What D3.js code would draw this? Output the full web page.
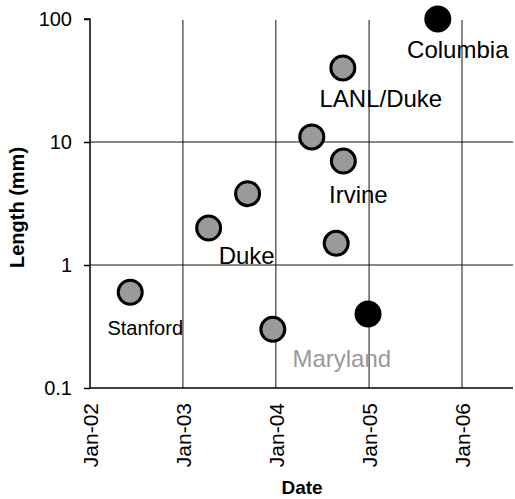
<!DOCTYPE html>
<html>
<head>
<meta charset="utf-8">
<script src="https://cdn.jsdelivr.net/npm/d3@7"></script>
<style>
  body { margin: 0; background: #fff; }
  svg { display: block; font-family: Arial, "Liberation Sans", sans-serif; }
</style>
</head>
<body>
<div id="chart"></div>
<script>
// data
const dates = ["2002-06-08", "2003-04-12", "2003-09-12", "2003-12-20", "2004-05-21",
               "2004-08-25", "2004-09-20", "2004-09-22", "2004-12-28", "2005-09-28"]
const lengths = [0.6, 2.0, 3.8, 0.3, 11, 1.5, 40, 7, 0.4, 100]
const groups = ["gray", "gray", "gray", "gray", "gray", "gray", "gray", "gray", "black", "black"]
const labels = ["Stanford", "Duke", "", "Maryland", "", "", "LANL/Duke", "Irvine", "", "Columbia"]

const yTicks = [0.1, 1, 10, 100]
const xTicks = ["2002-01-01", "2003-01-01", "2004-01-01", "2005-01-01", "2006-01-01"]

const parse = d3.timeParse("%Y-%m-%d")
const fmt = d3.timeFormat("Jan-%y")

const W = 515, H = 499
const margin = {top: 19, left: 90, bottom: 111}
const plotRight = 513

const svg = d3.select("#chart").append("svg")
    .attr("width", W)
    .attr("height", H)

const x = d3.scaleTime()
    .domain([parse("2002-01-01"), parse("2006-01-01")])
    .range([margin.left, 462])

const y = d3.scaleLog()
    .domain([0.1, 100])
    .range([H - margin.bottom, margin.top])

// grid lines
svg.append("g")
    .selectAll("line")
    .data(xTicks.slice(1))
    .join("line")
    .attr("x1", d => x(parse(d))).attr("x2", d => x(parse(d)))
    .attr("y1", y(100) + 1).attr("y2", y(0.1))
    .attr("stroke", "#111").attr("stroke-width", 1)

svg.append("g")
    .selectAll("line")
    .data([1, 10])
    .join("line")
    .attr("x1", margin.left).attr("x2", plotRight)
    .attr("y1", d => y(d)).attr("y2", d => y(d))
    .attr("stroke", "#111").attr("stroke-width", 1)

// y axis
const yAxis = svg.append("g")
    .attr("transform", "translate(" + margin.left + ",0)")
    .call(d3.axisLeft(y).tickValues(yTicks).tickFormat(d => d).tickSize(6).tickPadding(12))
yAxis.select(".domain").attr("stroke", "#000").attr("stroke-width", 1.5).attr("d", "M-6," + y(100) + "H0V" + y(0.1))
yAxis.selectAll(".tick line").attr("stroke", "#000").attr("stroke-width", 1.5)
yAxis.selectAll("text")
    .attr("font-size", 20)
    .attr("font-family", "Arial, 'Liberation Sans', sans-serif")
    .attr("fill", "#000")

// x axis
const xAxis = svg.append("g")
    .attr("transform", "translate(0," + y(0.1) + ")")
    .call(d3.axisBottom(x).tickValues(xTicks.map(parse)).tickFormat(fmt).tickSize(0).tickPadding(0))
xAxis.select(".domain").attr("stroke", "#000").attr("stroke-width", 1.5).attr("d", "M" + margin.left + ",0H" + plotRight)
xAxis.selectAll("text")
    .attr("font-size", 21)
    .attr("font-family", "Arial, 'Liberation Sans', sans-serif")
    .attr("fill", "#000")
    .attr("transform", "rotate(-90)")
    .attr("text-anchor", "end")
    .attr("x", -15)
    .attr("y", 0)
    .attr("dy", "0.35em")

// points
const points = dates.map((d, i) => ({date: parse(d), value: lengths[i], group: groups[i], label: labels[i]}))

svg.append("g")
    .selectAll("circle")
    .data(points)
    .join("circle")
    .attr("cx", d => x(d.date))
    .attr("cy", d => y(d.value))
    .attr("r", 12)
    .attr("fill", d => d.group === "black" ? "#000" : "#9a9a9a")
    .attr("stroke", "#000")
    .attr("stroke-width", 3)

// label placement relative to its point (pixels)
const labelLayout = {
    "Stanford": {dx: 15, dy: 43, size: 20, color: "#000"},
    "Duke": {dx: 38, dy: 36, size: 24, color: "#000"},
    "Maryland": {dx: 69, dy: 38, size: 24, color: "#999"},
    "LANL/Duke": {dx: 38, dy: 39, size: 24, color: "#000"},
    "Irvine": {dx: 15, dy: 42, size: 24, color: "#000"},
    "Columbia": {dx: 20, dy: 39, size: 24, color: "#000"}
}

svg.append("g")
    .selectAll("text")
    .data(points.filter(d => d.label !== ""))
    .join("text")
    .attr("x", d => x(d.date) + labelLayout[d.label].dx)
    .attr("y", d => y(d.value) + labelLayout[d.label].dy)
    .attr("text-anchor", "middle")
    .attr("font-size", d => labelLayout[d.label].size)
    .attr("fill", d => labelLayout[d.label].color)
    .text(d => d.label)

// axis titles
svg.append("text")
    .attr("transform", "translate(24," + ((y(100) + y(0.1)) / 2 + 4) + ") rotate(-90)")
    .attr("text-anchor", "middle")
    .attr("font-size", 20)
    .attr("font-weight", "bold")
    .text("Length (mm)")

svg.append("text")
    .attr("x", 302)
    .attr("y", 494)
    .attr("text-anchor", "middle")
    .attr("font-size", 19)
    .attr("font-weight", "bold")
    .text("Date")
</script>
</body>
</html>
